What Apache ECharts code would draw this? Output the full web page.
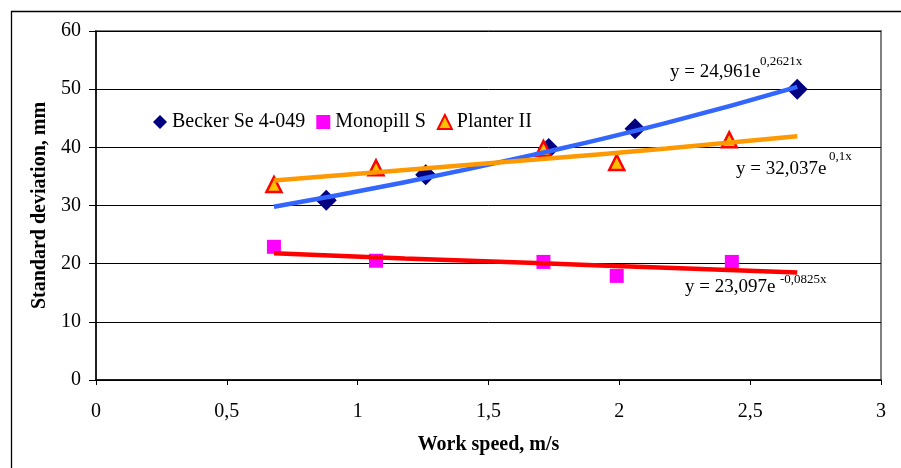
<!DOCTYPE html>
<html>
<head>
<meta charset="utf-8">
<script src="https://cdn.jsdelivr.net/npm/echarts@6/dist/echarts.min.js"></script>
<style>
html,body{margin:0;padding:0;background:#fff;}
#c{width:901px;height:468px;}
</style>
</head>
<body>
<div id="c"></div>
<script>
// Data
var seriesNames = ['Becker Se 4-049', 'Monopill S', 'Planter II'];
var beckerPts = [[0.88, 30.9], [1.26, 35.3], [1.73, 39.8], [2.06, 43.2], [2.68, 50.0]];
var monopillPts = [[0.68, 22.9], [1.07, 20.5], [1.71, 20.3], [1.99, 17.9], [2.43, 20.3]];
var planterPts = [[0.68, 33.6], [1.07, 36.5], [1.71, 39.8], [1.99, 37.4], [2.42, 41.3]];
// Trendlines (as drawn in the picture)
var beckerTrend = [[0.68, 29.8], [1.18, 34.0], [1.68, 38.8], [2.18, 44.2], [2.68, 50.4]];
var monopillTrend = [[0.68, 21.8], [1.18, 20.9], [1.68, 20.1], [2.18, 19.3], [2.68, 18.5]];
var planterTrend = [[0.68, 34.3], [1.18, 36.1], [1.68, 37.9], [2.18, 39.8], [2.68, 41.9]];
var trendLabels = [
  {main: 'y = 24,961e', sup: '0,2621x'},
  {main: 'y = 32,037e', sup: '0,1x'},
  {main: 'y = 23,097e', sup: '-0,0825x'}
];
var xTitle = 'Work speed, m/s';
var yTitle = 'Standard deviation, mm';

var FONT = '"Liberation Serif", "Times New Roman", serif';
var chart = echarts.init(document.getElementById('c'), null, {renderer: 'canvas'});

function eqText(x, y, txt, size) {
  return {type: 'text', left: x, top: y, z: 100,
    style: {text: txt, fill: '#000', font: size + 'px ' + FONT, textVerticalAlign: 'middle', verticalAlign: 'middle'}};
}

var option = {
  animation: false,
  backgroundColor: '#fff',
  grid: {left: 96, top: 31, right: 20, bottom: 88, show: true, borderColor: '#808080', borderWidth: 2, backgroundColor: 'transparent'},
  legend: {
    data: seriesNames,
    left: 153, top: 112, padding: 0,
    itemWidth: 14, itemHeight: 14, itemGap: 11,
    textStyle: {fontFamily: FONT, fontSize: 20, color: '#000'}
  },
  xAxis: {
    type: 'value', min: 0, max: 3, interval: 0.5,
    name: xTitle, nameLocation: 'middle', nameGap: 55,
    nameTextStyle: {fontFamily: FONT, fontSize: 20, fontWeight: 'bold', color: '#000'},
    axisLine: {show: true, lineStyle: {color: '#000', width: 1.5}},
    axisTick: {show: true, length: 5, lineStyle: {color: '#000'}},
    axisLabel: {fontFamily: FONT, fontSize: 20, color: '#000', margin: 22,
      formatter: function (v) { return String(v).replace('.', ','); }},
    splitLine: {show: false}
  },
  yAxis: {
    type: 'value', min: 0, max: 60, interval: 10,
    name: yTitle, nameLocation: 'middle', nameGap: 43, nameRotate: 90,
    nameTextStyle: {fontFamily: FONT, fontSize: 20, fontWeight: 'bold', color: '#000'},
    axisLine: {show: true, lineStyle: {color: '#000', width: 1.5}},
    axisTick: {show: true, length: 7, lineStyle: {color: '#000'}},
    axisLabel: {fontFamily: FONT, fontSize: 20, color: '#000', margin: 15, padding: [7, 0, 0, 0]},
    splitLine: {show: true, lineStyle: {color: '#000', width: 1}}
  },
  series: [
    {name: seriesNames[0], type: 'scatter', data: beckerPts, symbol: 'diamond', symbolSize: 21, z: 2,
      itemStyle: {color: '#000080', opacity: 1}},
    {name: seriesNames[1], type: 'scatter', data: monopillPts, symbol: 'rect', symbolSize: 14, z: 2,
      itemStyle: {color: '#FF00FF', opacity: 1}},
    {name: seriesNames[2], type: 'scatter', data: planterPts, symbol: 'triangle', symbolSize: 15, z: 2,
      itemStyle: {color: '#FFC000', borderColor: '#FF0000', borderWidth: 2.5, opacity: 1}},
    {name: 'trend1', type: 'line', data: beckerTrend, showSymbol: false, symbol: 'none', z: 5, smooth: true,
      lineStyle: {color: '#3366FF', width: 4.5}},
    {name: 'trend2', type: 'line', data: planterTrend, showSymbol: false, symbol: 'none', z: 5, smooth: true,
      lineStyle: {color: '#FF9900', width: 4.5}},
    {name: 'trend3', type: 'line', data: monopillTrend, showSymbol: false, symbol: 'none', z: 5, smooth: true,
      lineStyle: {color: '#FF0000', width: 4.5}}
  ],
  graphic: [
    {type: 'rect', z: -1, shape: {x: 11.5, y: 11.5, width: 1000, height: 1000},
      style: {fill: 'none', stroke: '#000', lineWidth: 1.3}},
    eqText(670, 63, trendLabels[0].main, 19),
    eqText(760, 55, trendLabels[0].sup, 13),
    eqText(736, 160, trendLabels[1].main, 19),
    eqText(829, 150, trendLabels[1].sup, 13),
    eqText(685, 278, trendLabels[2].main, 19),
    eqText(780, 273, trendLabels[2].sup, 13)
  ]
};
chart.setOption(option);
</script>
</body>
</html>
